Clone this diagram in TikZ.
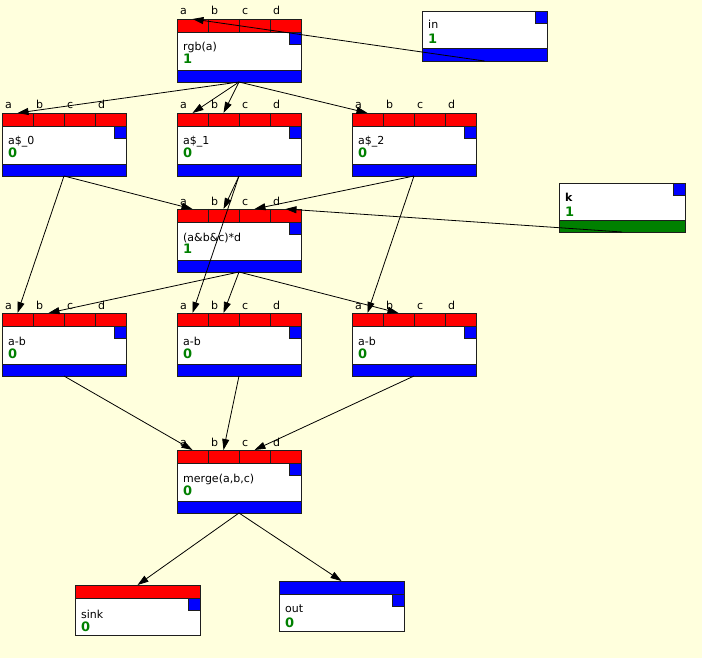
\documentclass[tikz,border=0pt]{standalone}
\usepackage{fontspec}
\setmainfont{DejaVu Sans}
\usetikzlibrary{arrows.meta}
\definecolor{bgcol}{RGB}{255,255,221}
\definecolor{bord}{RGB}{30,30,30}
\definecolor{numgreen}{RGB}{0,128,0}
\definecolor{pred}{RGB}{255,0,0}
\definecolor{pblue}{RGB}{0,0,255}
\tikzset{
  outline/.style={draw=bord, line width=0.8pt, inner sep=0pt, outer sep=0pt, minimum width=124pt, anchor=north west},
  arr/.style={draw=black, line width=0.8pt, -{Triangle[length=11pt,width=7pt]}},
  lbl/.style={anchor=base west, inner sep=0pt, font=\fontsize{11}{11}\selectfont},
  bl/.style={anchor=base west, inner sep=0pt, font=\fontsize{11}{11}\selectfont\bfseries},
  num/.style={anchor=base west, inner sep=0pt, text=numgreen, font=\fontsize{13}{13}\selectfont\bfseries},
  sep/.style={draw=bord, line width=0.8pt},
}
% name, x, y, label, number
\newcommand\procbox[5]{%
  \fill[white] ({#2},{#3+13}) rectangle ++(124,38);
  \fill[pred] ({#2},{#3}) rectangle ++(124,13);
  \fill[pblue] ({#2},{#3+51}) rectangle ++(124,12);
  \fill[pblue] ({#2+112},{#3+13}) rectangle ++(12,12);
  \draw[sep] ({#2+112},{#3+13}) |- ({#2+124},{#3+25});
  \draw[sep] ({#2},{#3+13}) -- ++(124,0);
  \draw[sep] ({#2},{#3+51}) -- ++(124,0);
  \draw[sep] ({#2+31},{#3}) -- ++(0,13);
  \draw[sep] ({#2+62},{#3}) -- ++(0,13);
  \draw[sep] ({#2+93},{#3}) -- ++(0,13);
  \node[outline, minimum height=63pt] (#1) at ({#2},{#3}) {};
  \node[lbl] (#1-la) at ({#2+3},{#3-4}) {a};
  \node[lbl] (#1-lb) at ({#2+34},{#3-4}) {b};
  \node[lbl] (#1-lc) at ({#2+65},{#3-4}) {c};
  \node[lbl] (#1-ld) at ({#2+96},{#3-4}) {d};
  \coordinate (#1-a) at ({#2+15.5},{#3});
  \coordinate (#1-b) at ({#2+46.5},{#3});
  \coordinate (#1-c) at ({#2+77.5},{#3});
  \coordinate (#1-d) at ({#2+108.5},{#3});
  \node[lbl] (#1-t) at ({#2+6},{#3+32}) {#4};
  \node[num] (#1-n) at ({#2+6},{#3+45}) {#5};
}
\begin{document}
\begin{tikzpicture}[x=1pt,y=-1pt]
\fill[bgcol] (0,0) rectangle (702,658);
\useasboundingbox (0,0) rectangle (702,658);

\procbox{rgb}{177}{19}{rgb(a)}{1}
\procbox{a0}{2}{113}{a\$\_0}{0}
\procbox{a1}{177}{113}{a\$\_1}{0}
\procbox{a2}{352}{113}{a\$\_2}{0}
\procbox{abcd}{177}{209}{(a\&b\&c)*d}{1}
\procbox{ab0}{2}{313}{a-b}{0}
\procbox{ab1}{177}{313}{a-b}{0}
\procbox{ab2}{352}{313}{a-b}{0}
\procbox{merge}{177}{450}{merge(a,b,c)}{0}

% in
\fill[white] (422,11) rectangle ++(125,37);
\fill[pblue] (422,48) rectangle ++(125,13);
\fill[pblue] (535,11) rectangle ++(12,12);
\draw[sep] (535,11) |- (547,23);
\draw[sep] (422,48) -- ++(125,0);
\node[outline, minimum width=125pt, minimum height=50pt] (in) at (422,11) {};
\node[lbl] (in-t) at (428,29) {in};
\node[num] (in-n) at (428,44) {1};

% k
\fill[white] (559,183) rectangle ++(126,37);
\fill[numgreen] (559,220) rectangle ++(126,12);
\fill[pblue] (673,183) rectangle ++(12,12);
\draw[sep] (673,183) |- (685,195);
\draw[sep] (559,220) -- ++(126,0);
\node[outline, minimum width=126pt, minimum height=49pt] (k) at (559,183) {};
\node[bl] (k-t) at (565,201) {k};
\node[num] (k-n) at (565,216) {1};

% sink
\fill[white] (75,598) rectangle ++(125,37);
\fill[pred] (75,585) rectangle ++(125,13);
\fill[pblue] (188,598) rectangle ++(12,12);
\draw[sep] (188,598) |- (200,610);
\draw[sep] (75,598) -- ++(125,0);
\node[outline, minimum width=125pt, minimum height=50pt] (sink) at (75,585) {};
\node[lbl] (sink-t) at (81,618) {sink};
\node[num] (sink-n) at (81,631) {0};

% out
\fill[white] (279,594) rectangle ++(125,37);
\fill[pblue] (279,581) rectangle ++(125,13);
\fill[pblue] (392,594) rectangle ++(12,12);
\draw[sep] (392,594) |- (404,606);
\draw[sep] (279,594) -- ++(125,0);
\node[outline, minimum width=125pt, minimum height=50pt] (out) at (279,581) {};
\node[lbl] (out-t) at (285,612) {out};
\node[num] (out-n) at (285,627) {0};

% connectors
\draw[arr] (in.south) -- (rgb-a);
\draw[arr] (rgb.south) -- (a0-a);
\draw[arr] (rgb.south) -- (a1-a);
\draw[arr] (rgb.south) -- (a1-b);
\draw[arr] (rgb.south) -- (a2-a);
\draw[arr] (a0.south) -- (abcd-a);
\draw[arr] (a0.south) -- (ab0-a);
\draw[arr] (a1.south) -- (abcd-b);
\draw[arr] (a1.south) -- (ab1-a);
\draw[arr] (a2.south) -- (abcd-c);
\draw[arr] (a2.south) -- (ab2-a);
\draw[arr] (k.south) -- (abcd-d);
\draw[arr] (abcd.south) -- (ab0-b);
\draw[arr] (abcd.south) -- (ab1-b);
\draw[arr] (abcd.south) -- (ab2-b);
\draw[arr] (ab0.south) -- (merge-a);
\draw[arr] (ab1.south) -- (merge-b);
\draw[arr] (ab2.south) -- (merge-c);
\draw[arr] (merge.south) -- (sink.north);
\draw[arr] (merge.south) -- (out.north);
\end{tikzpicture}
\end{document}
